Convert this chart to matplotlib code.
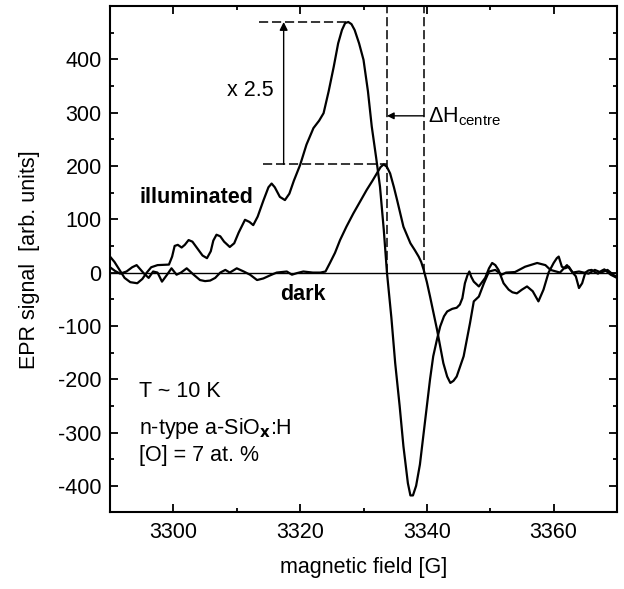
import numpy as np
import matplotlib
matplotlib.use("Agg")
import matplotlib.pyplot as plt
from matplotlib.ticker import MultipleLocator

plt.rcParams['font.family'] = ['Liberation Sans', 'DejaVu Sans']
plt.rcParams['axes.unicode_minus'] = False
plt.rcParams['mathtext.default'] = 'regular'

# illuminated spectrum, field in G
field_ill = [3290.0, 3290.7, 3291.5, 3292.3, 3293.2, 3294.3, 3295.1, 3295.8, 3296.5, 3297.5,
             3299.3, 3299.8, 3300.2, 3300.7, 3301.3, 3301.8, 3302.4, 3303.0, 3303.8, 3304.6,
             3305.3, 3305.9, 3306.3, 3306.8, 3307.4, 3308.0, 3308.9, 3309.6, 3310.3, 3311.3,
             3312.0, 3312.6, 3313.3, 3314.2, 3315.0, 3315.5, 3316.0, 3316.8, 3317.6, 3318.3,
             3319.0, 3320.0, 3321.0, 3322.1, 3323.0, 3323.7, 3324.5, 3325.3, 3326.0, 3326.6,
             3327.1, 3327.6, 3328.1, 3328.6, 3329.3, 3330.0, 3330.7, 3331.3, 3332.0, 3332.6,
             3333.2, 3333.7, 3334.4, 3335.0, 3335.7, 3336.3, 3337.0, 3337.4, 3337.8, 3338.3,
             3338.9, 3339.5, 3340.0, 3340.5, 3341.0, 3341.6, 3342.1, 3342.7, 3343.2, 3344.0,
             3344.7, 3345.2, 3345.6, 3346.0, 3346.4, 3346.7, 3347.0, 3347.4, 3348.2, 3349.2,
             3349.8, 3350.3, 3350.8, 3351.3, 3352.1, 3352.9, 3353.5, 3354.2, 3355.0, 3355.8,
             3356.7, 3357.6, 3358.4, 3359.2, 3360.0, 3360.5, 3360.8, 3361.3, 3361.8, 3362.4,
             3363.0, 3363.5, 3364.0, 3364.5, 3365.0, 3365.5, 3366.0, 3366.5, 3367.0, 3367.5,
             3368.0, 3368.5, 3369.0, 3369.5, 3370.0]
signal_ill = [30, 20, 5, -10, -18, -20, -12, 0, 10, 14,
              15, 30, 50, 52, 47, 52, 61, 58, 45, 32,
              27, 40, 60, 71, 68, 58, 48, 55, 75, 99,
              95, 89, 105, 135, 160, 167, 160, 142, 136, 148,
              172, 202, 240, 271, 285, 299, 340, 386, 430, 455,
              468, 470, 466, 455, 430, 399, 340, 274, 215, 161,
              80, 0, -85, -170, -250, -326, -395, -418, -418, -400,
              -360, -300, -250, -200, -157, -125, -101, -82, -73, -68,
              -66, -60, -48, -20, -5, 2, -8, -17, -26, -10,
              8, 18, 14, 5, -20, -32, -37, -39, -32, -26,
              -35, -54, -32, 0, 18, 27, 30, 11, 8, 11,
              0, -7, -29, -20, 0, 4, 5, 1, -2, 3,
              6, 1, -4, -7, -10]

# dark spectrum
field_dark = [3290.0, 3290.8, 3291.6, 3292.6, 3293.5, 3294.2, 3295.3, 3296.1, 3296.8, 3297.5,
              3298.2, 3299.0, 3299.7, 3300.5, 3301.2, 3302.1, 3303.2, 3304.2, 3305.0, 3305.8,
              3306.6, 3307.4, 3308.2, 3308.9, 3310.0, 3311.1, 3312.1, 3313.2, 3314.2, 3315.3,
              3316.3, 3317.9, 3318.7, 3319.5, 3320.5, 3322.0, 3323.2, 3324.0, 3324.7, 3325.5,
              3326.3, 3327.3, 3328.4, 3329.5, 3330.5, 3331.4, 3332.1, 3332.7, 3333.2, 3333.7,
              3334.2, 3334.8, 3335.3, 3336.3, 3337.4, 3338.1, 3338.7, 3339.1, 3339.5, 3340.0,
              3340.5, 3341.6, 3342.6, 3343.2, 3343.7, 3344.2, 3344.7, 3345.8, 3346.8, 3347.4,
              3348.2, 3349.0, 3349.8, 3350.8, 3351.8, 3352.5, 3353.9, 3355.5, 3357.4, 3358.7,
              3359.5, 3361.0, 3362.1, 3363.0, 3364.0, 3365.5, 3366.5, 3367.5, 3368.5, 3369.5,
              3370.0]
signal_dark = [10, 3, -2, 2, 10, 14, -1, -10, 2, 0,
               -17, -4, 8, -4, 0, 8, -4, -14, -16, -15,
               -10, 0, 5, 0, 8, 2, -4, -14, -11, -5,
               0, 2, -4, -1, 2, 0, 0, 2, 18, 37,
               61, 86, 111, 134, 155, 172, 186, 198, 203, 198,
               186, 160, 136, 86, 55, 42, 30, 20, 5, -18,
               -45, -107, -170, -195, -207, -203, -195, -157, -95, -54,
               -45, -20, 2, 5, -4, 0, 1, 11, 18, 14,
               5, 0, 14, 0, 2, -2, 5, 0, 5, -5,
               -8]

y_ticks = [-400, -300, -200, -100, 0, 100, 200, 300, 400]

# construction lines
peak_ill = 470
peak_dark = 203
arrow_field = 3317.4
centre_left = 3333.7
centre_right = 3339.5

fig = plt.figure(figsize=(6.24, 5.89), dpi=100)
ax = fig.add_axes([0.1763, 0.1299, 0.8125, 0.8599])

ax.axhline(0, color='black', lw=1.0)
ax.plot(field_ill, signal_ill, color='black', lw=1.6, solid_joinstyle='round')
ax.plot(field_dark, signal_dark, color='black', lw=1.6, solid_joinstyle='round')

dash = dict(color='black', lw=1.1, ls=(0, (6, 2.5)))
ax.plot([3313.5, 3327.4], [peak_ill, peak_ill], **dash)
ax.plot([3314.2, centre_left], [peak_dark, peak_dark], **dash)
ax.plot([centre_left, centre_left], [0, 500], **dash)
ax.plot([centre_right, centre_right], [0, 500], **dash)

ax.annotate('', xy=(arrow_field, peak_ill), xytext=(arrow_field, peak_dark),
            arrowprops=dict(arrowstyle='-|>', color='black', lw=1.0,
                            mutation_scale=12, shrinkA=0, shrinkB=0))
ax.annotate('', xy=(centre_left, 294), xytext=(centre_right, 294),
            arrowprops=dict(arrowstyle='-|>', color='black', lw=1.0,
                            mutation_scale=10, shrinkA=0, shrinkB=0))

fs = 15.5
ax.text(3308.5, 342, 'x 2.5', fontsize=fs, va='center', ha='left')
ax.text(3340.2, 292, 'ΔH$_{centre}$', fontsize=fs, va='center', ha='left')
ax.text(3294.7, 140, 'illuminated', fontsize=fs, fontweight='bold', va='center')
ax.text(3316.8, -42, 'dark', fontsize=fs, fontweight='bold', va='center')
ax.text(3294.6, -223, 'T ~ 10 K', fontsize=fs, va='center')
ax.text(3294.6, -292, 'n-type a-SiO$_\\mathbf{x}$:H', fontsize=fs, va='center')
ax.text(3294.6, -344, '[O] = 7 at. %', fontsize=fs, va='center')

ax.set_xlim(3290, 3370)
ax.set_ylim(-450, 500)
ax.xaxis.set_major_locator(MultipleLocator(20))
ax.xaxis.set_minor_locator(MultipleLocator(10))
ax.set_yticks(y_ticks)
ax.yaxis.set_minor_locator(MultipleLocator(50))
ax.tick_params(which='both', direction='in', top=True, right=True, width=1.3,
               labelsize=fs)
ax.tick_params(which='major', length=6)
ax.tick_params(which='minor', length=3)
ax.tick_params(axis='x', pad=7)
ax.tick_params(axis='y', pad=6)
for s in ax.spines.values():
    s.set_linewidth(1.5)

ax.set_xlabel('magnetic field [G]', fontsize=fs, labelpad=10)
ax.set_ylabel('EPR signal  [arb. units]', fontsize=fs, labelpad=13)

fig.savefig('out.png', dpi=100)
